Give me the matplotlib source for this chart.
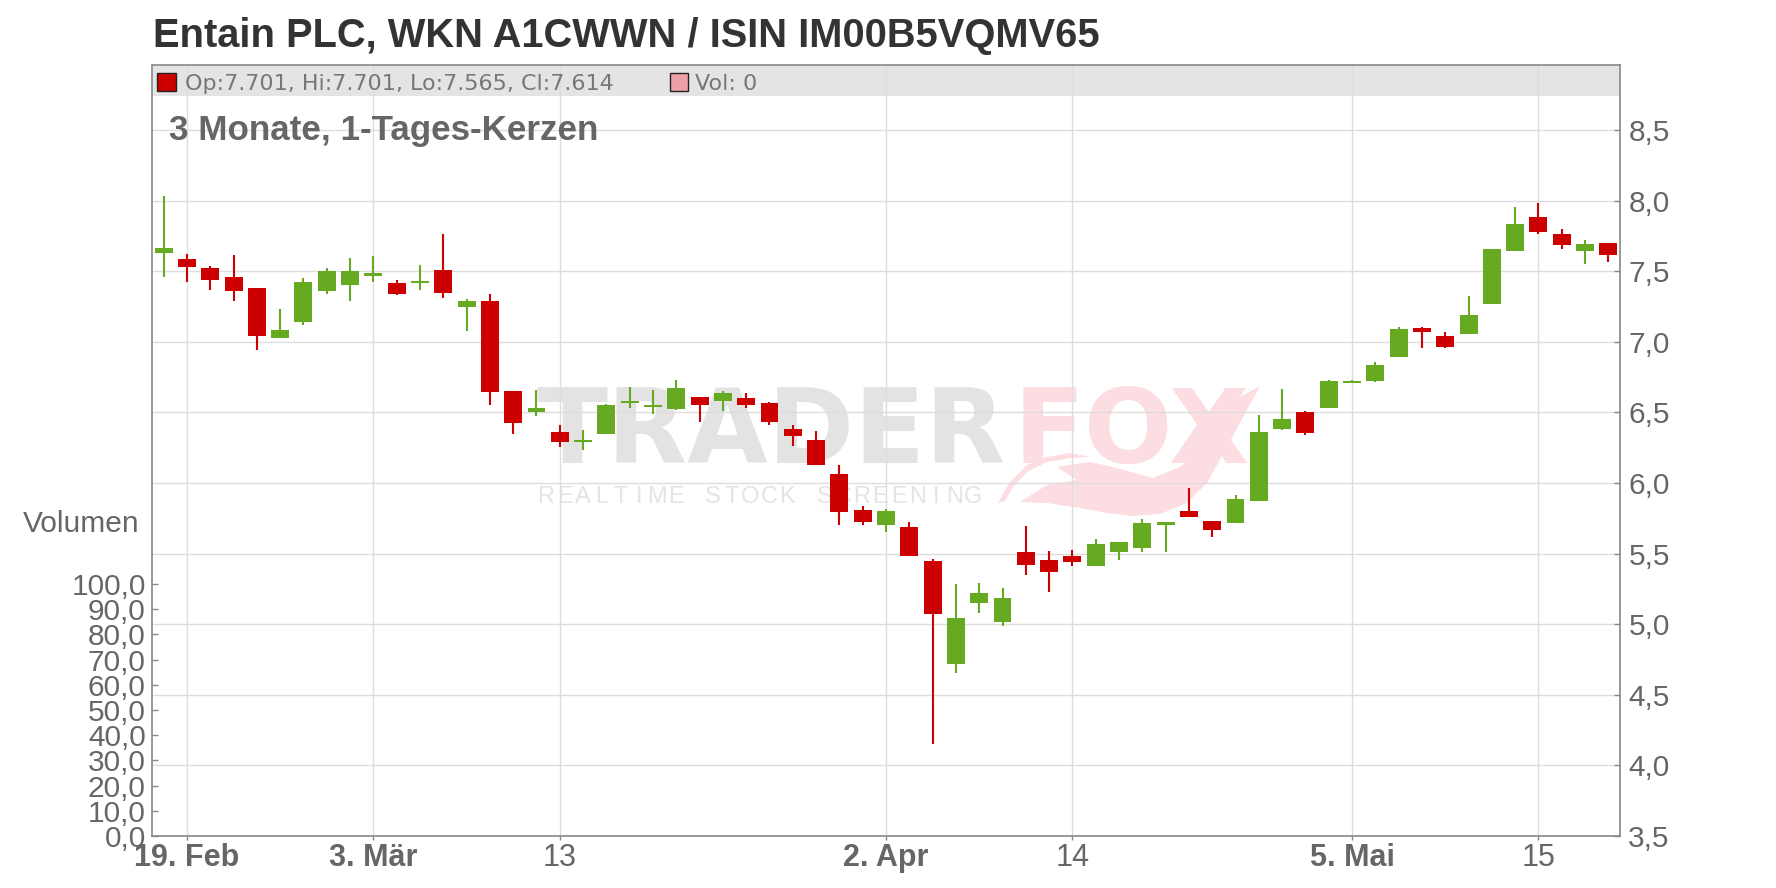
import numpy as np
import pandas as pd
import matplotlib
matplotlib.use('Agg')
import matplotlib.pyplot as plt
from matplotlib.patches import Rectangle, Polygon

plt.rcParams['font.family'] = ['Liberation Sans', 'DejaVu Sans']

W, H = 1776, 888

# trading days (Xetra holidays removed)
HOLIDAYS = ['2025-04-18', '2025-04-21', '2025-05-01']
dates = pd.bdate_range('2025-02-18', '2025-05-20')
dates = dates[~dates.isin(pd.to_datetime(HOLIDAYS))]

opens = [7.631, 7.587, 7.523, 7.459, 7.381, 7.029, 7.143, 7.362, 7.405, 7.469,
         7.417, 7.419, 7.509, 7.249, 7.289, 6.652, 6.505, 6.361, 6.293, 6.350,
         6.564, 6.540, 6.526, 6.609, 6.583, 6.602, 6.566, 6.382, 6.304, 6.064,
         5.809, 5.705, 5.688, 5.448, 4.720, 5.152, 5.018, 5.511, 5.455, 5.483,
         5.414, 5.514, 5.542, 5.705, 5.802, 5.731, 5.719, 5.875, 6.385, 6.503,
         6.534, 6.711, 6.725, 6.895, 7.098, 7.041, 7.058, 7.270, 7.646, 7.884,
         7.764, 7.646, 7.701]
highs = [8.033, 7.622, 7.537, 7.615, 7.381, 7.232, 7.452, 7.523, 7.594, 7.608,
         7.438, 7.544, 7.764, 7.303, 7.339, 6.652, 6.659, 6.411, 6.376, 6.560,
         6.680, 6.659, 6.729, 6.609, 6.651, 6.637, 6.574, 6.411, 6.368, 6.127,
         5.837, 5.816, 5.724, 5.462, 5.285, 5.292, 5.256, 5.695, 5.518, 5.525,
         5.603, 5.582, 5.745, 5.724, 5.965, 5.731, 5.915, 6.482, 6.666, 6.510,
         6.730, 6.730, 6.857, 7.105, 7.105, 7.070, 7.325, 7.657, 7.955, 7.983,
         7.799, 7.721, 7.701]
lows = [7.461, 7.426, 7.369, 7.291, 6.944, 7.029, 7.122, 7.341, 7.291, 7.426,
        7.334, 7.369, 7.313, 7.079, 6.555, 6.350, 6.477, 6.257, 6.236, 6.350,
        6.531, 6.491, 6.517, 6.432, 6.512, 6.533, 6.413, 6.264, 6.130, 5.705,
        5.705, 5.655, 5.485, 4.154, 4.657, 5.082, 4.990, 5.351, 5.230, 5.414,
        5.414, 5.457, 5.514, 5.514, 5.761, 5.620, 5.719, 5.875, 6.378, 6.342,
        6.534, 6.711, 6.718, 6.895, 6.959, 6.959, 7.058, 7.270, 7.646, 7.766,
        7.660, 7.554, 7.565]
closes = [7.664, 7.532, 7.440, 7.362, 7.044, 7.084, 7.424, 7.502, 7.502, 7.487,
          7.341, 7.433, 7.348, 7.289, 6.647, 6.427, 6.531, 6.293, 6.307, 6.553,
          6.581, 6.548, 6.673, 6.555, 6.637, 6.555, 6.434, 6.335, 6.130, 5.797,
          5.726, 5.802, 5.485, 5.075, 5.044, 5.221, 5.185, 5.422, 5.372, 5.443,
          5.568, 5.582, 5.717, 5.722, 5.761, 5.670, 5.887, 6.361, 6.453, 6.357,
          6.722, 6.722, 6.836, 7.091, 7.072, 6.966, 7.190, 7.657, 7.834, 7.780,
          7.688, 7.693, 7.614]
volumes = [0] * 63

tick_dates = ['2025-02-19', '2025-03-03', '2025-03-13', '2025-04-02',
              '2025-04-14', '2025-05-05', '2025-05-15']
tick_labels = ['19. Feb', '3. Mär', '13', '2. Apr', '14', '5. Mai', '15']
tick_bold = [True, True, False, True, False, True, False]

price_ticks = np.arange(3.5, 8.51, 0.5)
vol_ticks = np.arange(0, 100.1, 10)

GREEN = '#66aa22'
RED = '#cc0000'
TXT = '#666666'
GRID = '#dddddd'
AXC = '#888888'
PINK = '#fcdde1'


def fx(px):
    return px / W


def fy(py):
    return 1 - py / H


fig = plt.figure(figsize=(W / 100, H / 100), dpi=100)
left, right, top, bottom = 152, 1620, 65, 836
ax = fig.add_axes([fx(left), fy(bottom), fx(right - left), (bottom - top) / H])

x = np.arange(len(dates))
o = np.array(opens); c = np.array(closes)
hi = np.array(highs); lo = np.array(lows)
up = c >= o
cols = np.where(up, GREEN, RED)

ax.vlines(x, lo, hi, colors=cols, linewidth=1.5, zorder=3)
body_lo = np.minimum(o, c)
body_h = np.maximum(np.abs(c - o), 0.014)
ax.bar(x, body_h, bottom=body_lo, width=0.77, color=cols, linewidth=0, zorder=4)

ax.set_xlim(-0.5, len(dates) - 0.5)
ax.set_ylim(3.5, 3.5 + (bottom - top) / 141.2)

tick_pos = [dates.get_loc(pd.Timestamp(d)) for d in tick_dates]
ax.set_xticks(tick_pos)
ax.set_xticklabels(tick_labels)
ax.tick_params(axis='x', direction='out', length=3, width=1, color=AXC,
               labelsize=22, labelcolor=TXT, pad=2)
for lab, b in zip(ax.get_xticklabels(), tick_bold):
    if b:
        lab.set_fontweight('bold')

ax.grid(True, color=GRID, linewidth=1)
ax.set_axisbelow(True)
for s in ['left', 'right', 'bottom', 'top']:
    ax.spines[s].set_color(AXC)
    ax.spines[s].set_linewidth(1.2)

# volume axis on the left
axv = ax.twinx()
axv.bar(x, volumes, width=0.77, color='#eea0a8', zorder=2)
axv.set_ylim(0, 100 * (bottom - top) / (bottom - 584))
axv.set_yticks(vol_ticks)
axv.set_yticklabels([('%.1f' % v).replace('.', ',') for v in vol_ticks])
axv.yaxis.tick_left()
axv.tick_params(axis='y', direction='in', length=4, width=1, color=AXC,
                labelsize=21.5, labelcolor=TXT, pad=4.5)
for s in axv.spines.values():
    s.set_visible(False)

# price axis on the right (after twinx, which moves ticks)
ax.yaxis.tick_right()
ax.set_yticks(price_ticks)
ax.set_yticklabels([('%.1f' % v).replace('.', ',') for v in price_ticks])
ax.tick_params(axis='y', direction='in', length=4, width=1, color=AXC,
               labelsize=21.5, labelcolor=TXT, pad=6)

fig.text(fx(139), fy(532), 'Volumen', ha='right', va='baseline', fontsize=21.5, color=TXT)

# grey info band at the top of the plot
ax.add_patch(Rectangle((0, (bottom - 96) / (bottom - top)), 1, (96 - top) / (bottom - top),
                       transform=ax.transAxes, facecolor='#e4e4e4', edgecolor='none', zorder=0.2))
fig.add_artist(Rectangle((fx(157), fy(91)), fx(19), 18 / H, transform=fig.transFigure,
                         facecolor=RED, edgecolor='#222222', linewidth=1))
fig.text(fx(185), fy(90), 'Op:7.701, Hi:7.701, Lo:7.565, Cl:7.614', ha='left', va='baseline',
         fontsize=16, color='#777777', family='DejaVu Sans')
fig.add_artist(Rectangle((fx(670), fy(91)), fx(18), 18 / H, transform=fig.transFigure,
                         facecolor='#eea0a8', edgecolor='#222222', linewidth=1))
fig.text(fx(695), fy(90), 'Vol: 0', ha='left', va='baseline', fontsize=16, color='#777777',
         family='DejaVu Sans')

fig.text(fx(169), fy(140), '3 Monate, 1-Tages-Kerzen', ha='left', va='baseline',
         fontsize=25.2, fontweight='bold', color=TXT)
fig.text(fx(153), fy(47), 'Entain PLC, WKN A1CWWN / ISIN IM00B5VQMV65', ha='left',
         va='baseline', fontsize=28.7, fontweight='bold', color='#333333')

# watermark (below grid)
tf = fig.transFigure
ax.text(fx(536), fy(463), 'TRADER', ha='left', va='baseline', fontsize=75,
        fontweight='bold', family='DejaVu Sans', color='#e3e3e3', transform=tf, zorder=0.1)
ax.text(fx(1013), fy(463), 'FOX', ha='left', va='baseline', fontsize=75,
        fontweight='bold', family='DejaVu Sans', color=PINK, transform=tf, zorder=0.1)
sub = 'REALTIME STOCK SCREENING'
for i, ch in enumerate(sub):
    ax.text(fx(546 + i * 18.57), fy(503), ch, ha='center', va='baseline', fontsize=17,
            color='#e4e4e4', transform=tf, zorder=0.1)
tail_body = [(1020, 502), (1047, 485), (1077, 480), (1057, 467), (1090, 462), (1113, 467),
             (1153, 478), (1180, 467), (1197, 453), (1220, 417), (1240, 397), (1260, 386),
             (1247, 410), (1227, 447), (1207, 483), (1187, 503), (1160, 514), (1133, 516),
             (1107, 513), (1080, 508), (1047, 503)]
tail_arc = [(998, 503), (1010, 482), (1027, 465), (1047, 457), (1070, 453), (1090, 457),
            (1070, 458), (1047, 462), (1027, 472), (1013, 487), (1005, 501)]
for shape in (tail_body, tail_arc):
    ax.add_patch(Polygon([(fx(a), fy(b)) for a, b in shape], closed=True, transform=tf,
                         facecolor=PINK, edgecolor='none', zorder=0.1))

ax.patch.set_alpha(0)
fig.savefig('out.png', dpi=100)
